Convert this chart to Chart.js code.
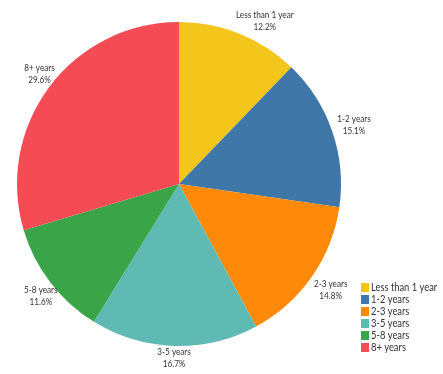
<!DOCTYPE html>
<html>
<head>
<meta charset="utf-8">
<script src="https://cdn.jsdelivr.net/npm/chart.js@4"></script>
<style>
  html, body { margin: 0; padding: 0; background: #fff; }
  #wrap { width: 443px; height: 374px; position: relative; }
</style>
</head>
<body>
<div id="wrap"><canvas id="pieChart" width="443" height="374"></canvas></div>
<script>
// Tenure categories and their share of respondents (%)
const categories = ['Less than 1 year', '1-2 years', '2-3 years', '3-5 years', '5-8 years', '8+ years'];
const shares = [12.2, 15.1, 14.8, 16.7, 11.6, 29.6];
const sliceColors = ['#F4C51B', '#4077A9', '#FF8A0A', '#5EBAB3', '#3AA548', '#F54B55'];

const LABEL_FONT = '10px Lato, sans-serif';
const LEGEND_FONT = '11px Lato, sans-serif';
const TEXT_COLOR = '#333333';

// the original font is a narrow one, so squeeze the text a little
function narrowText(ctx, text, x, y, squeeze) {
    const w = ctx.measureText(text).width;
    ctx.fillText(text, x, y, w * squeeze);
}

// draws the category + percent label just outside each slice
const outsideLabels = {
    id: 'outsideLabels',
    afterDatasetsDraw(chart) {
        const ctx = chart.ctx;
        const meta = chart.getDatasetMeta(0);
        const top = 21;
        const bottom = chart.height - 16;
        ctx.save();
        ctx.font = LABEL_FONT;
        ctx.fillStyle = TEXT_COLOR;
        ctx.textAlign = 'center';
        ctx.textBaseline = 'middle';
        meta.data.forEach(function(arc, i) {
            const mid = (arc.startAngle + arc.endAngle) / 2;
            // labels on the right sit a bit further out than on the left
            const rx = arc.outerRadius + (Math.cos(mid) > 0 ? 23 : 12);
            const ry = arc.outerRadius + 22;
            let cx = arc.x + Math.cos(mid) * rx;
            let cy = arc.y + Math.sin(mid) * ry;
            if (cy < top) {
                // pushed down from the top edge: slide sideways to stay clear of the pie
                cy = top;
                const k = (arc.y - cy) / ry;
                cx = arc.x + Math.sign(Math.cos(mid)) * rx * Math.sqrt(Math.max(0, 1 - k * k));
            }
            cy = Math.min(bottom, cy);
            narrowText(ctx, categories[i], cx, cy - 6, 0.815);
            narrowText(ctx, shares[i].toFixed(1) + '%', cx, cy + 6, 0.815);
        });
        ctx.restore();
    }
};

// small square legend in the bottom right corner
const cornerLegend = {
    id: 'cornerLegend',
    afterDraw(chart) {
        const ctx = chart.ctx;
        const x = 361;
        const y0 = 287;
        const step = 12;
        ctx.save();
        ctx.font = LEGEND_FONT;
        ctx.textAlign = 'left';
        ctx.textBaseline = 'middle';
        categories.forEach(function(name, i) {
            const y = y0 + i * step;
            ctx.fillStyle = sliceColors[i];
            ctx.fillRect(x, y - 4, 8, 9);
            ctx.fillStyle = TEXT_COLOR;
            narrowText(ctx, name, x + 10, y + 0.5, 0.85);
        });
        ctx.restore();
    }
};

const ctx = document.getElementById('pieChart').getContext('2d');
const tenureChart = new Chart(ctx, {
    type: 'pie',
    data: {
        labels: categories,
        datasets: [{
            data: shares,
            backgroundColor: sliceColors,
            borderColor: '#ffffff',
            borderWidth: 0
        }]
    },
    options: {
        responsive: false,
        animation: false,
        layout: {
            padding: { left: 17, top: 22, right: 102, bottom: 28 }
        },
        plugins: {
            legend: { display: false },
            tooltip: { enabled: false }
        }
    },
    plugins: [outsideLabels, cornerLegend]
});
</script>
</body>
</html>
